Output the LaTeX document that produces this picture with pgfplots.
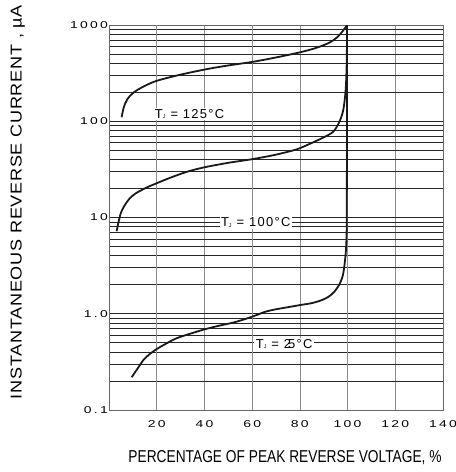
\documentclass[border=0pt]{standalone}
\usepackage{pgfplots}
\pgfplotsset{compat=1.18}
\usepackage{fontspec}
\setmainfont{Liberation Sans}
\newfontfamily\tickfont[LetterSpace=16]{Liberation Sans}
\newfontfamily\ylabfont[LetterSpace=4]{Liberation Sans}
\newfontfamily\curvefont[LetterSpace=10]{Liberation Sans}
\newcommand\sx[1]{\scalebox{1.4}[1]{#1}}
\newcommand\tj[1]{\curvefont\fontsize{13}{13}\selectfont T\raisebox{-0.3bp}{\fontsize{5.5}{5.5}\selectfont J} = #1}

\begin{document}
\begin{tikzpicture}
\path[use as bounding box] (-109bp,-62bp) rectangle (347bp,410bp);
\begin{axis}[
  scale only axis, width=334bp, height=385bp,
  at={(0,0)}, anchor=south west,
  xmin=0, xmax=140, ymode=log, ymin=0.1, ymax=1000,
  xtick={20,40,...,140},
  xticklabels={\sx{20},\sx{40},\sx{60},\sx{80},\sx{100},\sx{120},\sx{140}},
  ytick={0.1,1,10,100,1000},
  yticklabels={\sx{0.1},\sx{1.0},\sx{10},\sx{100},\sx{1000}},
  minor ytick={0.2,0.3,0.4,0.5,0.6,0.7,0.8,0.9,2,3,4,5,6,7,8,9,20,30,40,50,60,70,80,90,200,300,400,500,600,700,800,900},
  ticklabel style={font=\tickfont\fontsize{10}{10}\selectfont},
  xticklabel style={anchor=north, inner sep=0pt, yshift=-10bp},
  yticklabel style={anchor=east, inner sep=0pt, xshift=-1bp},
  major tick length=0pt, minor tick length=0pt,
  xmajorgrids, ymajorgrids, yminorgrids,
  major grid style={black!85, line width=0.7bp},
  minor grid style={black!85, line width=0.7bp},
  x grid style={black!45, line width=0.7bp},
  extra x ticks={20,60,100},
  extra x tick labels={},
  extra x tick style={grid=major, major grid style={black!90, line width=0.7bp}},
  axis line style={black!60, line width=0.7bp},
  curve/.style={black!90, line width=1.8bp, smooth, tension=0.5, mark=none},
]
% T_J = 125 C
\addplot[curve] coordinates {(5.3,110)(6.2,140)(7.6,168)(10.2,198)(14.4,229)(20,263)(30,305)(41,348)(50,380)(60.4,415)(70,460)(80,520)(87,580)(92.6,660)(96,760)(98.2,880)(99.3,960)(99.8,1000)};
% T_J = 100 C
\addplot[curve] coordinates {(3.2,7.2)(4,9)(5,11.2)(6.5,13.3)(8.5,15.6)(11,17.7)(15.8,20.5)(20,22.7)(25,25.5)(32,29.5)(39.4,33)(50,37)(60.4,40.5)(70,45)(78.6,51)(84,58)(90,68)(94,78)(96.5,98)(98.2,131)(99.2,211)(99.6,370)(99.75,650)(99.8,1000)};
% T_J = 25 C
\addplot[curve] coordinates {(9.5,0.219)(12,0.27)(14.4,0.33)(17,0.38)(20,0.43)(24,0.49)(28.3,0.556)(34,0.62)(40.2,0.69)(46,0.75)(52.1,0.81)(57,0.88)(61.9,0.97)(65,1.04)(68.9,1.1)(75,1.17)(80,1.23)(85,1.29)(89,1.38)(92,1.5)(94.5,1.7)(96.8,2.07)(98.2,2.63)(99.2,4.2)(99.6,6.9)(99.7,20)(99.75,100)(99.8,1000)};
\node[fill=white, inner sep=1.5bp, anchor=base] at (axis cs:33.8,107) {\tj{125\textdegree C}};
\node[fill=white, inner sep=1.5bp, anchor=base] at (axis cs:61.5,8.0) {\tj{100\textdegree C}};
\node[fill=white, inner sep=1.5bp, anchor=base] at (axis cs:73.4,0.434) {\tj{2\kern-3bp 5\textdegree C}};
\end{axis}
\node[rotate=90] at (-91.3bp,208bp) {\resizebox{394bp}{11bp}{\ylabfont\fontsize{14}{14}\selectfont INSTANTANEOUS REVERSE CURRENT , µA}};
\node at (176bp,-47.5bp) {\resizebox{313bp}{12bp}{\fontsize{14}{14}\selectfont PERCENTAGE OF PEAK REVERSE VOLTAGE, \%}};
\end{tikzpicture}
\end{document}
